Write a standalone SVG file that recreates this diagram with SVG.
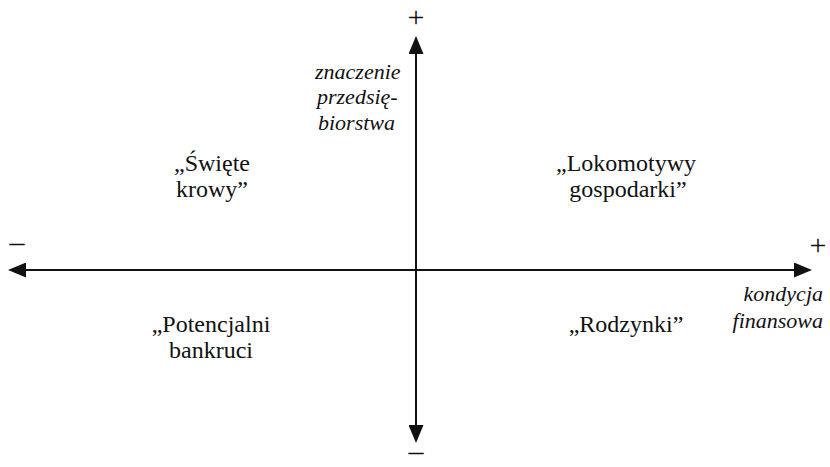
<svg xmlns="http://www.w3.org/2000/svg" width="830" height="467" viewBox="0 0 830 467">
<style>
.q{font-family:'Liberation Serif',serif;font-size:24px;fill:#111;text-anchor:middle}
.ax{font-family:'Liberation Serif',serif;font-size:22px;font-style:italic;fill:#111}
.sg{font-family:'Liberation Serif',serif;font-size:30px;fill:#111;text-anchor:middle}
.axis{stroke:#111;stroke-width:2;fill:none}
</style>
<defs>
<marker id="ah" markerUnits="userSpaceOnUse" markerWidth="18" markerHeight="15" viewBox="0 0 18 15" refX="4" refY="7.5" orient="auto-start-reverse">
<path d="M0,0 L18,7.5 L0,15 z" fill="#111"/>
</marker>
</defs>
<rect width="830" height="467" fill="#fff"/>
<g id="connectors">
<line class="axis" x1="22" y1="270" x2="798" y2="270" marker-start="url(#ah)" marker-end="url(#ah)"/>
<line class="axis" x1="416" y1="50" x2="416" y2="429" marker-start="url(#ah)" marker-end="url(#ah)"/>
</g>
<g id="signs">
<text class="sg" x="416" y="27">+</text>
<text class="sg" x="416" y="461">–</text>
<text class="sg" x="17" y="252">–</text>
<text class="sg" x="818" y="255">+</text>
</g>
<g id="axis-y-label">
<text class="ax" x="315" y="79">znaczenie</text>
<text class="ax" x="317" y="104">przedsię-</text>
<text class="ax" x="318" y="130">biorstwa</text>
</g>
<g id="axis-x-label">
<text class="ax" x="823" y="301" text-anchor="end">kondycja</text>
<text class="ax" x="823" y="328" text-anchor="end">finansowa</text>
</g>
<g id="swiete-krowy">
<text class="q" x="212" y="171">„Święte</text>
<text class="q" x="212" y="197">krowy”</text>
</g>
<g id="lokomotywy">
<text class="q" x="626" y="171">„Lokomotywy</text>
<text class="q" x="628" y="197">gospodarki”</text>
</g>
<g id="potencjalni">
<text class="q" x="211" y="332">„Potencjalni</text>
<text class="q" x="211" y="358">bankruci</text>
</g>
<g id="rodzynki">
<text class="q" x="626" y="332">„Rodzynki”</text>
</g>
</svg>
